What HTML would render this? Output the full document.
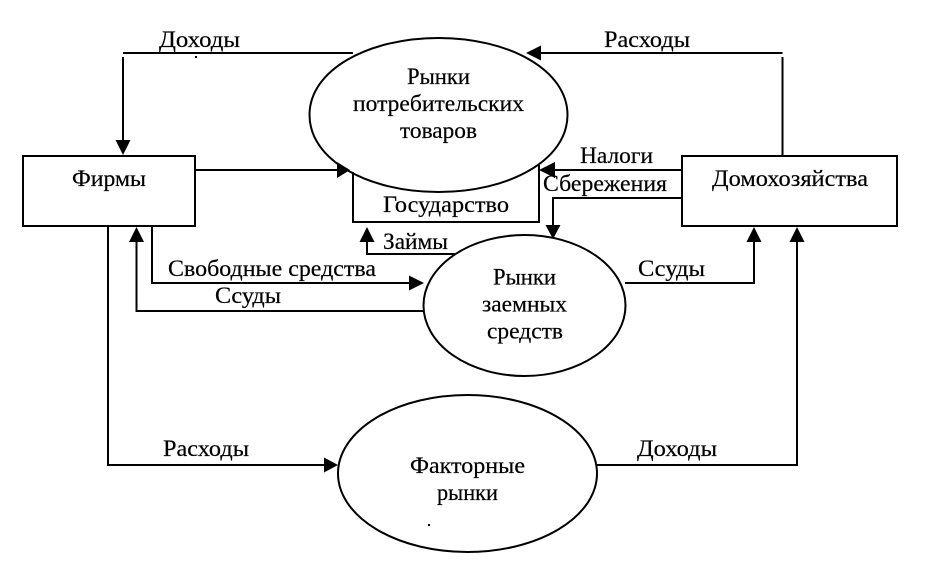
<!DOCTYPE html>
<html><head><meta charset="utf-8"><style>
html,body{margin:0;padding:0;background:#fff;width:947px;height:578px;overflow:hidden}
svg{display:block}
text{font-family:"Liberation Serif","Noto Serif CJK SC",serif;font-size:23px;fill:#000;stroke:#000;stroke-width:.2px}
</style></head><body>
<svg width="947" height="578" viewBox="0 0 947 578" xmlns="http://www.w3.org/2000/svg">
<g fill="none" stroke="#000" stroke-width="2">
<path d="M353 172V222H539V165"/>
<path d="M309.500 115C309.500 70 368 38 438.500 38S567.500 70 567.500 115S509 192 438.500 192S309.500 160 309.500 115Z"/>
<ellipse cx="524.500" cy="305.500" rx="101" ry="70.500"/>
<ellipse cx="467.500" cy="473.500" rx="129.500" ry="78.500"/>
<rect x="23" y="156" width="172" height="70"/>
<rect x="682" y="156" width="215" height="70"/>
<path d="M353 53H123M123 57V145"/>
<path d="M195 170H340"/>
<path d="M782.500 53H535M782.500 57V156"/>
<path d="M682 170H550"/>
<path d="M682 198H553V228"/>
<path d="M455 254H367V240"/>
<path d="M152 226V283H412"/>
<path d="M424 311H136.500V240"/>
<path d="M108 226V465H328"/>
<path d="M597 465H797V240"/>
<path d="M625 283H754V240"/>
</g>
<g fill="#000">
<path d="M123 155L115.500 140H130.500Z"/>
<path d="M350 170L337 162V178Z"/>
<path d="M526 53L541 45.500V60.500Z"/>
<path d="M539 170L555 162V178Z"/>
<path d="M553 239L545.500 225H560.500Z"/>
<path d="M367 227L359.500 242H374.500Z"/>
<path d="M136.500 227L129 242H144Z"/>
<path d="M424 283L409 275.500V290.500Z"/>
<path d="M338 465L324 457.500V472.500Z"/>
<path d="M754 227L746.500 242H761.500Z"/>
<path d="M797 227L789.500 242H804.500Z"/>
<rect x="195" y="56" width="2" height="2"/>
<rect x="428" y="524" width="2" height="2"/>
</g>
<text x="159" y="47" textLength="81" lengthAdjust="spacingAndGlyphs">Доходы</text>
<text x="604" y="47" textLength="86" lengthAdjust="spacingAndGlyphs">Расходы</text>
<text x="407" y="84" textLength="63" lengthAdjust="spacingAndGlyphs">Рынки</text>
<text x="353" y="111" textLength="171" lengthAdjust="spacingAndGlyphs">потребительских</text>
<text x="400" y="138" textLength="77" lengthAdjust="spacingAndGlyphs">товаров</text>
<text x="72" y="186" textLength="74" lengthAdjust="spacingAndGlyphs">Фирмы</text>
<text x="712" y="186" textLength="156" lengthAdjust="spacingAndGlyphs">Домохозяйства</text>
<text x="580" y="163" textLength="73" lengthAdjust="spacingAndGlyphs">Налоги</text>
<text x="543" y="191" textLength="124" lengthAdjust="spacingAndGlyphs">Сбережения</text>
<text x="383" y="212" textLength="126" lengthAdjust="spacingAndGlyphs">Государство</text>
<text x="383" y="249" textLength="65" lengthAdjust="spacingAndGlyphs">Займы</text>
<text x="168" y="276" textLength="208" lengthAdjust="spacingAndGlyphs">Свободные средства</text>
<text x="215" y="303" textLength="66" lengthAdjust="spacingAndGlyphs">Ссуды</text>
<text x="638" y="276" textLength="67" lengthAdjust="spacingAndGlyphs">Ссуды</text>
<text x="493" y="284.500" textLength="63" lengthAdjust="spacingAndGlyphs">Рынки</text>
<text x="482" y="311.500" textLength="85" lengthAdjust="spacingAndGlyphs">заемных</text>
<text x="487" y="338.500" textLength="76" lengthAdjust="spacingAndGlyphs">средств</text>
<text x="163" y="456" textLength="86" lengthAdjust="spacingAndGlyphs">Расходы</text>
<text x="637" y="456" textLength="80" lengthAdjust="spacingAndGlyphs">Доходы</text>
<text x="410" y="473" textLength="115" lengthAdjust="spacingAndGlyphs">Факторные</text>
<text x="437" y="500" textLength="61" lengthAdjust="spacingAndGlyphs">рынки</text>
</svg>
</body></html>
